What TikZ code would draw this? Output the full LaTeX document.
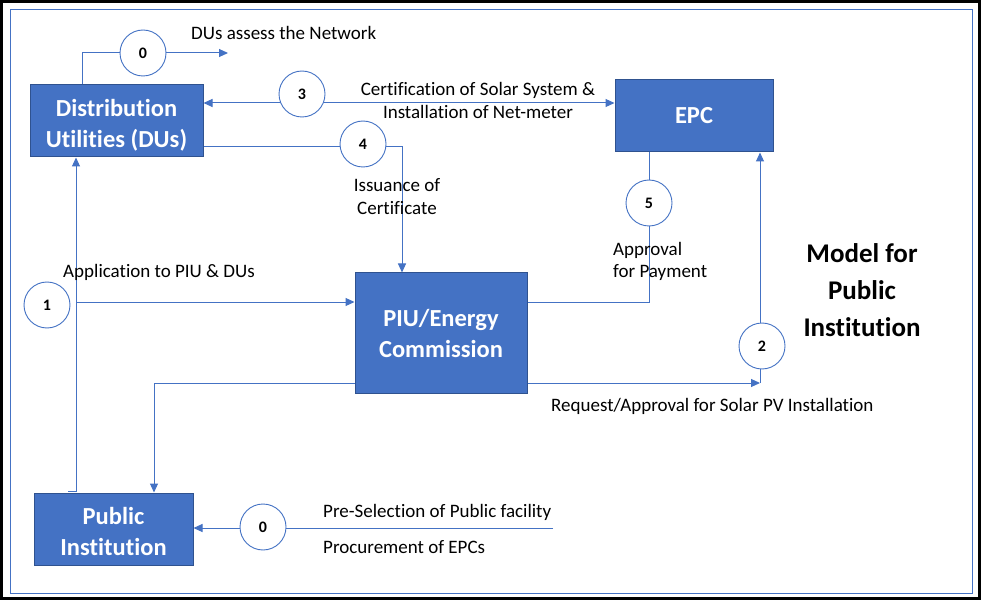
\documentclass[tikz,border=0pt]{standalone}
\usepackage{fontspec}
\setmainfont{Carlito}[Ligatures=CommonOff]
\usetikzlibrary{arrows.meta}
\definecolor{obl}{HTML}{4472C4}
\definecolor{obd}{HTML}{2F528F}
\newcommand{\pushdown}[1]{\rule{0pt}{#1}}
\begin{document}
\begin{tikzpicture}[x=1pt,y=-1pt,
  box/.style={draw=obd, line width=1pt, fill=obl, text=white, font=\fontsize{24.5}{31}\selectfont\bfseries, align=center, inner sep=0pt},
  num/.style={circle, draw=obl, fill=white, line width=0.9pt, minimum size=46pt, inner sep=0pt, font=\fontsize{16}{18}\selectfont\bfseries},
  conn/.style={draw=obl, line width=1pt},
  tip/.style={-{Triangle[length=9pt,width=8pt]}},
  arr/.style={conn, tip},
  lbl/.style={font=\fontsize{19}{22}\selectfont, inner sep=0pt},
  ttl/.style={font=\fontsize{27}{37}\selectfont\bfseries, inner sep=0pt},
]
\useasboundingbox (0,0) rectangle (983,604);
\draw[line width=3pt] (1.5,1.5) rectangle (979.5,598.5);
\draw[obl, line width=1pt] (10,10) rectangle (972,593);

% boxes
\node[box, minimum width=173pt, minimum height=72pt] (DUs) at (116.5,121) {\pushdown{26pt}Distribution\\Utilities (DUs)};
\node[box, minimum width=158pt, minimum height=72pt] (EPC) at (694,116) {EPC};
\node[box, minimum width=172pt, minimum height=120pt] (PIU) at (441,333) {PIU/Energy\\Commission};
\node[box, minimum width=159pt, minimum height=72pt] (PI) at (113.5,529) {\pushdown{23pt}Public\\Institution};

% helper coordinates
\coordinate (a0) at (82,53);
\coordinate (t0) at (228,53);
\coordinate (y3) at (0,103);
\coordinate (k4) at (402,147);
\coordinate (k5) at (649,302);
\coordinate (k2) at (760,383);
\coordinate (k1a) at (68,491);
\coordinate (k1b) at (76,491);
\coordinate (k1c) at (76,302);
\coordinate (k7) at (154,383);
\coordinate (k8) at (553,528);

% connectors
\draw[arr] (a0 |- DUs.north) -- (a0) -- (t0);
\draw[conn, {Triangle[length=9pt,width=8pt]}-{Triangle[length=9pt,width=8pt]}] (DUs.east |- y3) -- (EPC.west |- y3);
\draw[arr] (DUs.east |- k4) -- (k4) -- (k4 |- PIU.north);
\draw[conn] (EPC.south -| k5) -- (k5) -- (k5 -| PIU.east);
\draw[arr] (PIU.east |- k2) -- (k2);
\draw[arr] (k2) -- (k2 |- EPC.south);
\draw[arr] (k1a) -- (k1b) -- (k1b |- DUs.south);
\draw[arr] (k1c) -- (k1c -| PIU.west);
\draw[arr] (PIU.west |- k7) -- (k7) -- (k7 |- PI.north);
\draw[arr] (k8) -- (k8 -| PI.east);

% numbered circles
\node[num] (c0) at (143,53) {0};
\node[num] (c3) at (302,94) {3};
\node[num] (c4) at (363,144) {4};
\node[num] (c5) at (649,203) {5};
\node[num] (c2) at (762,346) {2};
\node[num] (c1) at (47,305) {1};
\node[num] (c0b) at (263,527) {0};

% labels
\node[lbl, anchor=base west] (l0) at (191,40) {DUs assess the Network};
\node[lbl, anchor=base] (l3a) at (478,96) {Certification of Solar System \&};
\node[lbl, anchor=base] (l3b) at (478,119) {Installation of Net-meter};
\node[lbl, anchor=base] (l4a) at (397,192) {Issuance of};
\node[lbl, anchor=base] (l4b) at (397,215) {Certificate};
\node[lbl, anchor=base west] (l5a) at (613,255) {Approval};
\node[lbl, anchor=base west] (l5b) at (613,278) {for Payment};
\node[lbl, anchor=base west] (l1) at (63,278) {Application to PIU \& DUs};
\node[lbl, anchor=base west] (l2) at (551,411) {Request/Approval for Solar PV Installation};
\node[lbl, anchor=base west] (l0a) at (323,517) {Pre-Selection of Public facility};
\node[lbl, anchor=base west] (l0b) at (323,553) {Procurement of EPCs};

% title
\node[ttl, anchor=base] (m1) at (862,262) {Model for};
\node[ttl, anchor=base] (m2) at (862,299) {Public};
\node[ttl, anchor=base] (m3) at (862,336) {Institution};
\end{tikzpicture}
\end{document}
